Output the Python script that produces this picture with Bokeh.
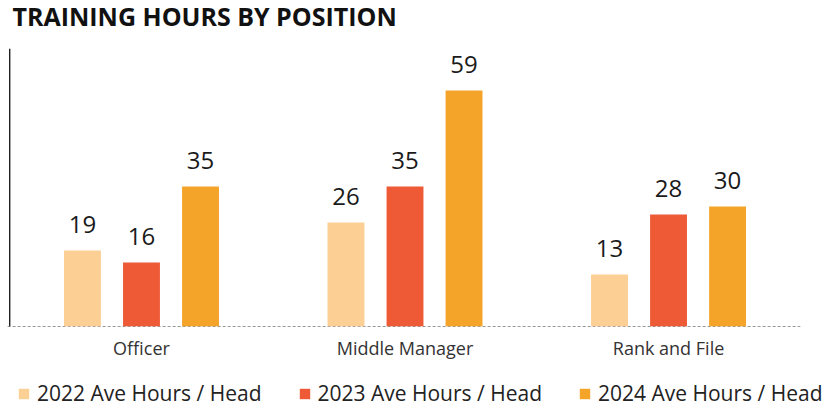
from bokeh.plotting import figure
from bokeh.models import (ColumnDataSource, Range1d, Span, Legend, LegendItem, Label,
                          FixedTicker)
from bokeh.layouts import column
from bokeh.core.properties import value
from bokeh.embed import file_html
from bokeh.resources import INLINE

title_text = "TRAINING HOURS BY POSITION"
categories = ["Officer", "Middle Manager", "Rank and File"]
series_names = ["2022 Ave Hours / Head", "2023 Ave Hours / Head", "2024 Ave Hours / Head"]
hours_2022 = [19, 26, 13]
hours_2023 = [16, 35, 28]
hours_2024 = [35, 59, 30]

colors = ["#FCCF94", "#EE5A36", "#F5A42A"]
offsets = [-0.224, 0.0, 0.224]
FONT = "Open Sans"
W = 833

# header strip with title
hf = figure(width=W, height=48, output_backend="svg", toolbar_location=None,
            x_range=Range1d(0, 1), y_range=Range1d(0, 1),
            min_border_left=0, min_border_right=0, min_border_top=0, min_border_bottom=0)
hf.axis.visible = False
hf.grid.visible = False
hf.outline_line_color = None
hf.add_layout(Label(x=12, y=33, x_units="screen", y_units="screen", text=title_text,
                    text_font=FONT, text_font_style="bold", text_font_size="25px",
                    text_color="#111111", text_baseline="alphabetic", text_align="left"))

idx = list(range(len(categories)))
src = ColumnDataSource(dict(idx=idx, y2022=hours_2022, y2023=hours_2023, y2024=hours_2024,
                            t2022=[str(v) for v in hours_2022],
                            t2023=[str(v) for v in hours_2023],
                            t2024=[str(v) for v in hours_2024]))

p = figure(width=W, height=318, output_backend="svg", toolbar_location=None,
           x_range=Range1d(-0.535, 2.626), y_range=Range1d(0, 69.5),
           min_border_left=0, min_border_right=0, min_border_top=0, min_border_bottom=40)

p.outline_line_color = None
p.xgrid.grid_line_color = None
p.ygrid.grid_line_color = None
p.yaxis.visible = False
p.xaxis.ticker = FixedTicker(ticks=idx)
p.xaxis.major_label_overrides = {i: c for i, c in zip(idx, categories)}
p.xaxis.axis_line_color = None
p.xaxis.major_tick_line_color = None
p.xaxis.minor_tick_line_color = None
p.xaxis.major_label_text_font = FONT
p.xaxis.major_label_text_font_size = "18px"
p.xaxis.major_label_text_color = "#333333"
p.xaxis.major_label_standoff = 3

band_left = -0.5
band_right = len(categories) - 0.5
p.add_layout(Span(location=band_left, dimension="height", line_color="#111111", line_width=1.3))
p.segment(x0=[band_left - 0.008], x1=[band_right], y0=[0], y1=[0],
          line_color="#333333", line_width=1.2, line_dash="3 2")

for key, col, off in zip(["2022", "2023", "2024"], colors, offsets):
    xs = [i + off for i in idx]
    src.data["x" + key] = xs
    p.vbar(x="x" + key, top="y" + key, width=0.14, source=src,
           fill_color=col, line_color=None)
    p.text(x="x" + key, y="y" + key, text="t" + key, source=src,
           text_align="center", text_baseline="bottom", y_offset=-18,
           text_font=value(FONT), text_font_size="24px", text_color="#1a1a1a")

# legend strip
lf = figure(width=W, height=45, output_backend="svg", toolbar_location=None,
            x_range=Range1d(0, 1), y_range=Range1d(0, 1),
            min_border_left=0, min_border_right=0, min_border_top=0, min_border_bottom=0)
lf.axis.visible = False
lf.grid.visible = False
lf.outline_line_color = None

items = []
for name, col in zip(series_names, colors):
    # zero-height proxy glyph, only used to draw the legend swatch
    r = lf.vbar(x=[0.5], top=[0], bottom=[0], width=0.01, fill_color=col, line_color=None)
    items.append(LegendItem(label=name, renderers=[r]))

legend = Legend(items=items, orientation="horizontal", glyph_width=13, glyph_height=13,
                label_standoff=7, spacing=36, label_text_font=FONT, label_text_font_size="21px",
                label_text_color="#222222", border_line_color=None, background_fill_alpha=0,
                padding=0, margin=0, location=(17, 4))
lf.add_layout(legend, "center")

layout = column(hf, p, lf, spacing=0)
open("out.html", "w").write(file_html(layout, INLINE))
